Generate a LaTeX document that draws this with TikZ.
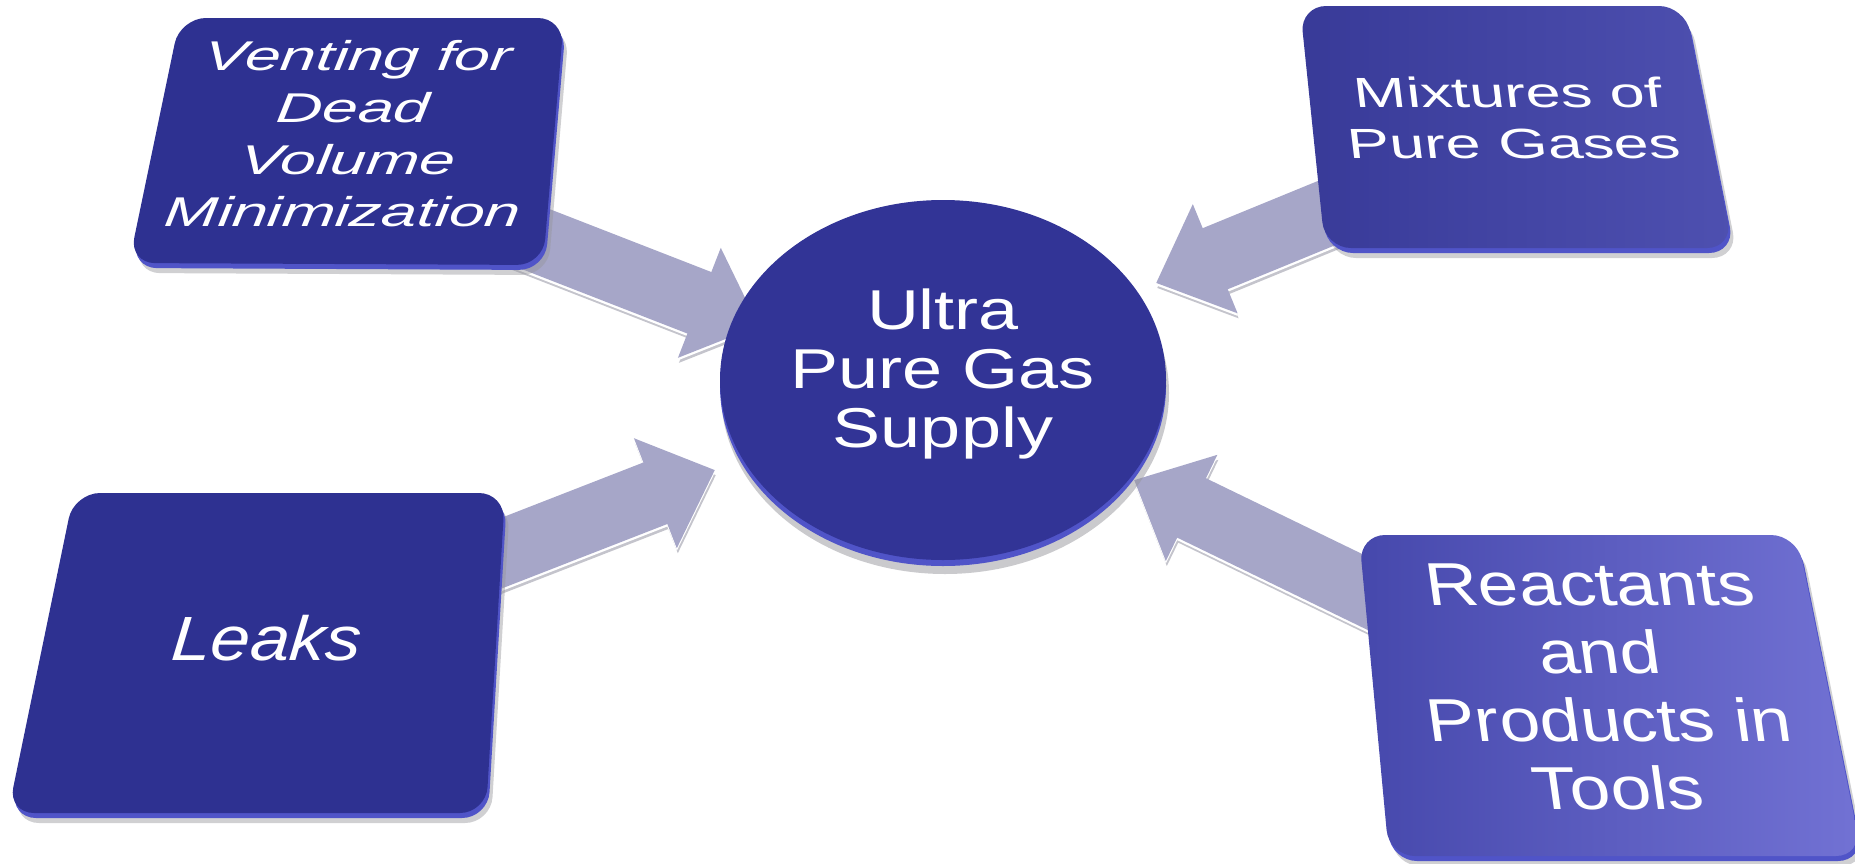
\documentclass[tikz,border=0pt]{standalone}
\usepackage{fontspec}
\setmainfont{Liberation Sans}
\usetikzlibrary{arrows.meta,calc}

% palette
\definecolor{faceA}{RGB}{46,49,145}
\definecolor{faceM1}{RGB}{56,58,152}
\definecolor{faceM2}{RGB}{78,80,176}
\definecolor{faceR1}{RGB}{70,72,172}
\definecolor{faceR2}{RGB}{114,114,212}
\definecolor{rimc}{RGB}{80,84,200}
\definecolor{shadowc}{RGB}{150,150,156}
\definecolor{arrowc}{RGB}{166,166,200}
\definecolor{arrowshade}{RGB}{196,196,204}
\definecolor{corec}{RGB}{50,52,150}

\begin{document}
\begin{tikzpicture}[x=1pt,y=-1pt,
  tile/.style={rounded corners=26pt},
  ventq/.style={insert path={(372,18) -- (564,18) -- (543,265) -- (129,263) -- (180,18) -- cycle}},
  mixq/.style={insert path={(1492,6) -- (1685,6) -- (1733,248) -- (1325,248) -- (1300,6) -- cycle}},
  leakq/.style={insert path={(290,493) -- (505,493) -- (486,813) -- (8,813) -- (74,493) -- cycle}},
  reactq/.style={insert path={(1578,535) -- (1797,535) -- (1862,856) -- (1389,856) -- (1359,535) -- cycle}},
  tiletext/.style={text=white, inner sep=0pt, align=center, transform shape},
  flow/.style={draw=arrowc, line width=66pt, -{Triangle[length=64pt,width=114pt]}},
]
\useasboundingbox (0,0) rectangle (1855,863);

% block arrows pointing at the central disk
\coordinate (a1s) at (461,210);  \coordinate (a1e) at (759,326);
\coordinate (a2s) at (1395,185); \coordinate (a2e) at (1156,283);
\coordinate (a3s) at (448,574);  \coordinate (a3e) at (715,470);
\coordinate (a4s) at (1400,609); \coordinate (a4e) at (1134,480);
\foreach \s/\e in {a1s/a1e, a2s/a2e, a3s/a3e, a4s/a4e} {
  % soft drop edge, bright bevel, then the arrow itself
  \draw[flow, draw=arrowshade] ([xshift=1pt,yshift=-5pt]\s) -- ([xshift=1pt,yshift=-5pt]\e);
  \draw[flow, draw=white] ([yshift=-2.5pt]\s) -- ([yshift=-2.5pt]\e);
  \draw[flow] (\s) -- (\e);
}

% central disk: shadow, rim, face
\fill[shadowc, opacity=.5] (945,393) ellipse [x radius=224, y radius=181];
\fill[rimc] (943,386) ellipse [x radius=223, y radius=180];
\fill[corec] (943,380) ellipse [x radius=223, y radius=180];

% tiles: shadow, rim, face
\begin{scope}[shift={(5,10)}]
  \fill[tile, shadowc, opacity=.45, ventq];
  \fill[tile, shadowc, opacity=.45, mixq];
  \fill[tile, shadowc, opacity=.45, leakq];
  \fill[tile, shadowc, opacity=.45, reactq];
\end{scope}
\begin{scope}[shift={(2,5)}]
  \fill[tile, rimc, ventq];
  \fill[tile, rimc, mixq];
  \fill[tile, rimc, leakq];
  \fill[tile, rimc, reactq];
\end{scope}
\fill[tile, faceA, ventq];
\shade[tile, left color=faceM1, right color=faceM2, mixq];
\fill[tile, faceA, leakq];
\shade[tile, left color=faceR1, right color=faceR2, reactq];

% labels
\begin{scope}[shift={(943,374)}]
  \node[tiletext, yscale=.78, font=\fontsize{72pt}{76pt}\selectfont] (core) at (0,0) {Ultra\\Pure Gas\\Supply};
\end{scope}
\begin{scope}[shift={(351,134)}]
  \node[tiletext, xslant=.1, yscale=.65, font=\itshape\fontsize{64pt}{80pt}\selectfont] (vent) at (0,0) {Venting for\\Dead\\Volume\\Minimization};
\end{scope}
\begin{scope}[shift={(1511,118)}]
  \node[tiletext, xslant=-.12, yscale=.67, font=\fontsize{63pt}{76pt}\selectfont] (mix) at (0,0) {Mixtures of\\Pure Gases};
\end{scope}
\begin{scope}[shift={(267,638)}]
  \node[tiletext, xslant=.08, yscale=.88, font=\itshape\fontsize{71pt}{80pt}\selectfont] (leak) at (0,0) {Leaks};
\end{scope}
\begin{scope}[shift={(1604,687)}]
  \node[tiletext, xslant=-.14, yscale=.83, font=\fontsize{73pt}{82pt}\selectfont] (react) at (0,0) {Reactants\\and\\Products in\\Tools};
\end{scope}
\end{tikzpicture}
\end{document}
